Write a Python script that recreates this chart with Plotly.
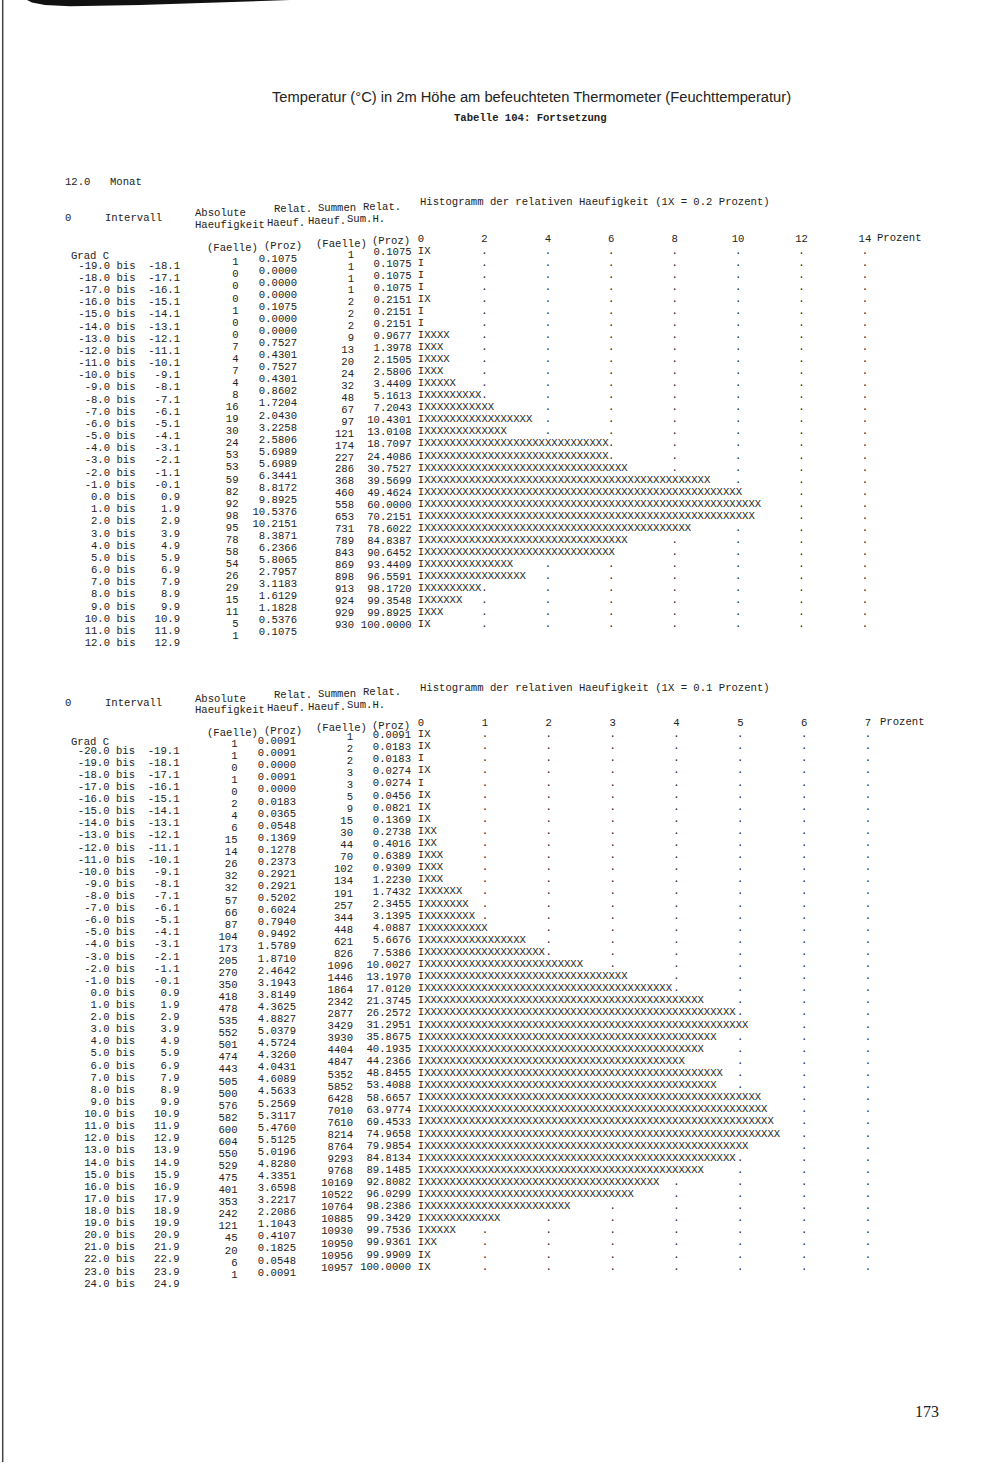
import math

import plotly.graph_objects as go

W, H = 1000, 1472
MONO = "Liberation Mono, DejaVu Sans Mono, monospace"
FS = 10.6
INK = "#222222"

# ---- Tabelle 1: Monat 12, 1X = 0.2 Prozent ----
T1_LOWER = [-19.0, -18.0, -17.0, -16.0, -15.0, -14.0, -13.0, -12.0, -11.0, -10.0,
            -9.0, -8.0, -7.0, -6.0, -5.0, -4.0, -3.0, -2.0, -1.0, 0.0,
            1.0, 2.0, 3.0, 4.0, 5.0, 6.0, 7.0, 8.0, 9.0, 10.0, 11.0, 12.0]
T1_UPPER = [-18.1, -17.1, -16.1, -15.1, -14.1, -13.1, -12.1, -11.1, -10.1, -9.1,
            -8.1, -7.1, -6.1, -5.1, -4.1, -3.1, -2.1, -1.1, -0.1, 0.9,
            1.9, 2.9, 3.9, 4.9, 5.9, 6.9, 7.9, 8.9, 9.9, 10.9, 11.9, 12.9]
T1_ABS = [1, 0, 0, 0, 1, 0, 0, 7, 4, 7, 4, 8, 16, 19, 30, 24, 53, 53, 59, 82,
          92, 98, 95, 78, 58, 54, 26, 29, 15, 11, 5, 1]
T1_REL = [0.1075, 0.0000, 0.0000, 0.0000, 0.1075, 0.0000, 0.0000, 0.7527, 0.4301, 0.7527,
          0.4301, 0.8602, 1.7204, 2.0430, 3.2258, 2.5806, 5.6989, 5.6989, 6.3441, 8.8172,
          9.8925, 10.5376, 10.2151, 8.3871, 6.2366, 5.8065, 2.7957, 3.1183, 1.6129, 1.1828,
          0.5376, 0.1075]
T1_SUM = [1, 1, 1, 1, 2, 2, 2, 9, 13, 20, 24, 32, 48, 67, 97, 121, 174, 227, 286, 368,
          460, 558, 653, 731, 789, 843, 869, 898, 913, 924, 929, 930]
T1_RELSUM = [0.1075, 0.1075, 0.1075, 0.1075, 0.2151, 0.2151, 0.2151, 0.9677, 1.3978, 2.1505,
             2.5806, 3.4409, 5.1613, 7.2043, 10.4301, 13.0108, 18.7097, 24.4086, 30.7527, 39.5699,
             49.4624, 60.0000, 70.2151, 78.6022, 84.8387, 90.6452, 93.4409, 96.5591, 98.1720, 99.3548,
             99.8925, 100.0000]
T1_TICKS = [0, 2, 4, 6, 8, 10, 12, 14]
T1_UNIT = 0.2

# ---- Tabelle 2: 1X = 0.1 Prozent ----
T2_LOWER = [-20.0, -19.0, -18.0, -17.0, -16.0, -15.0, -14.0, -13.0, -12.0, -11.0,
            -10.0, -9.0, -8.0, -7.0, -6.0, -5.0, -4.0, -3.0, -2.0, -1.0,
            0.0, 1.0, 2.0, 3.0, 4.0, 5.0, 6.0, 7.0, 8.0, 9.0,
            10.0, 11.0, 12.0, 13.0, 14.0, 15.0, 16.0, 17.0, 18.0, 19.0,
            20.0, 21.0, 22.0, 23.0, 24.0]
T2_UPPER = [-19.1, -18.1, -17.1, -16.1, -15.1, -14.1, -13.1, -12.1, -11.1, -10.1,
            -9.1, -8.1, -7.1, -6.1, -5.1, -4.1, -3.1, -2.1, -1.1, -0.1,
            0.9, 1.9, 2.9, 3.9, 4.9, 5.9, 6.9, 7.9, 8.9, 9.9,
            10.9, 11.9, 12.9, 13.9, 14.9, 15.9, 16.9, 17.9, 18.9, 19.9,
            20.9, 21.9, 22.9, 23.9, 24.9]
T2_ABS = [1, 1, 0, 1, 0, 2, 4, 6, 15, 14, 26, 32, 32, 57, 66, 87, 104, 173, 205, 270,
          350, 418, 478, 535, 552, 501, 474, 443, 505, 500, 576, 582, 600, 604, 550,
          529, 475, 401, 353, 242, 121, 45, 20, 6, 1]
T2_REL = [0.0091, 0.0091, 0.0000, 0.0091, 0.0000, 0.0183, 0.0365, 0.0548, 0.1369, 0.1278,
          0.2373, 0.2921, 0.2921, 0.5202, 0.6024, 0.7940, 0.9492, 1.5789, 1.8710, 2.4642,
          3.1943, 3.8149, 4.3625, 4.8827, 5.0379, 4.5724, 4.3260, 4.0431, 4.6089, 4.5633,
          5.2569, 5.3117, 5.4760, 5.5125, 5.0196, 4.8280, 4.3351, 3.6598, 3.2217, 2.2086,
          1.1043, 0.4107, 0.1825, 0.0548, 0.0091]
T2_SUM = [1, 2, 2, 3, 3, 5, 9, 15, 30, 44, 70, 102, 134, 191, 257, 344, 448, 621, 826, 1096,
          1446, 1864, 2342, 2877, 3429, 3930, 4404, 4847, 5352, 5852, 6428, 7010, 7610, 8214, 8764,
          9293, 9768, 10169, 10522, 10764, 10885, 10930, 10950, 10956, 10957]
T2_RELSUM = [0.0091, 0.0183, 0.0183, 0.0274, 0.0274, 0.0456, 0.0821, 0.1369, 0.2738, 0.4016,
             0.6389, 0.9309, 1.2230, 1.7432, 2.3455, 3.1395, 4.0887, 5.6676, 7.5386, 10.0027,
             13.1970, 17.0120, 21.3745, 26.2572, 31.2951, 35.8675, 40.1935, 44.2366, 48.8455, 53.4088,
             58.6657, 63.9774, 69.4533, 74.9658, 79.9854, 84.8134, 89.1485, 92.8082, 96.0299, 98.2386,
             99.3429, 99.7536, 99.9361, 99.9909, 100.0000]
T2_TICKS = [0, 1, 2, 3, 4, 5, 6, 7]
T2_UNIT = 0.1


def px(x):
    return x / W


def py(y):
    return 1 - y / H


def row_axis(p_first, p_last, n, first=False):
    # y axis in row units: row 0 lands on pixel p_first, row n-1 on p_last
    d = (p_last - p_first) / (n - 1)
    ax = dict(domain=[0, 1], range=[(H - p_first) / d, -p_first / d],
              visible=False, fixedrange=True, anchor="x")
    if not first:
        ax["overlaying"] = "y"
    return ax


def hist_axis(zero_px, px_per_pct, ticks, label_y):
    return dict(domain=[0, 1], range=[-zero_px / px_per_pct, (W - zero_px) / px_per_pct],
                overlaying="x", anchor="free", position=py(label_y), side="top",
                tickvals=ticks, ticktext=[str(t) for t in ticks],
                ticks="", showline=False, showgrid=False, zeroline=False,
                tickfont=dict(family=MONO, size=FS, color=INK), fixedrange=True)


def axis_name(i):
    return "y" if i == 1 else f"y{i}"


fig = go.Figure()
layout = {}
annotations = []


def txt(x, y, s, anchor="left", size=FS, family=MONO, bold=False):
    annotations.append(dict(
        x=px(x), y=py(y), xref="paper", yref="paper", showarrow=False,
        text=f"<b>{s}</b>" if bold else s, xanchor=anchor, yanchor="middle",
        font=dict(family=family, size=size, color=INK)))


def add_table(lower, upper, absol, rel, sums, relsum, ticks, unit,
              cols, tick_y, head_y, unit_y, grad_y, zero_px, px_per_pct, ax_y, ax_x):
    n = len(lower)
    rows = list(range(n))
    interval = [f"{lo:5.1f} bis  {hi:5.1f}" for lo, hi in zip(lower, upper)]
    columns = [
        ("interval", interval),
        ("abs", [str(v) for v in absol]),
        ("rel", [f"{v:.4f}" for v in rel]),
        ("sum", [str(v) for v in sums]),
        ("relsum", [f"{v:.4f}" for v in relsum]),
    ]
    for k, (key, strings) in enumerate(columns):
        xr, p0, p1 = cols[key]
        name = axis_name(ax_y + k)
        layout[name.replace("y", "yaxis")] = row_axis(p0, p1, n, first=(ax_y + k == 1))
        fig.add_trace(go.Scatter(
            x=[xr] * n, y=rows, mode="text", text=strings, textposition="middle left",
            textfont=dict(family=MONO, size=FS, color=INK), xaxis="x", yaxis=name,
            hoverinfo="skip", showlegend=False, cliponaxis=False))

    # histogram: one 'I' for the zero column, one 'X' per started unit
    hy = axis_name(ax_y + len(columns))
    _, p0, p1 = cols["hist"]
    layout[hy.replace("y", "yaxis")] = row_axis(p0, p1, n)
    layout[f"xaxis{ax_x}"] = hist_axis(zero_px, px_per_pct, ticks, tick_y + 6)
    nx = [math.ceil(round(v / unit, 6)) for v in rel]
    bars = ["I" + "X" * c for c in nx]
    fig.add_trace(go.Scatter(
        x=[-unit / 2] * n, y=rows, mode="text", text=bars, textposition="middle right",
        textfont=dict(family=MONO, size=FS, color=INK), xaxis=f"x{ax_x}", yaxis=hy,
        hoverinfo="skip", showlegend=False, cliponaxis=False))
    dx, dy = [], []
    for r, c in zip(rows, nx):
        for t in ticks[1:]:
            if round(t / unit) > c:
                dx.append(t)
                dy.append(r)
    fig.add_trace(go.Scatter(
        x=dx, y=dy, mode="text", text=["."] * len(dx), textposition="middle center",
        textfont=dict(family=MONO, size=FS, color=INK), xaxis=f"x{ax_x}", yaxis=hy,
        hoverinfo="skip", showlegend=False, cliponaxis=False))
    annotations.append(dict(
        x=ticks[-1], y=py(tick_y), xref=f"x{ax_x}", yref="paper", xshift=10,
        text="Prozent", showarrow=False, xanchor="left", yanchor="middle",
        font=dict(family=MONO, size=FS, color=INK)))

    # column headings (the print is slightly sheared: left side sits lower)
    hd = head_y
    txt(63, hd + 18, "0")
    txt(103, hd + 18, "Intervall")
    txt(193, hd + 13.5, "Absolute")
    txt(272, hd + 9, "Relat.")
    txt(316, hd + 8, "Summen")
    txt(361, hd + 6.5, "Relat.")
    txt(193, hd + 24.5, "Haeufigkeit")
    txt(265, hd + 22.5, "Haeuf.")
    txt(306, hd + 21, "Haeuf.")
    txt(345, hd + 19.5, "Sum.H.")
    txt(418, hd + 2, f"Histogramm der relativen Haeufigkeit (1X = {unit:.1f} Prozent)")
    txt(205, unit_y + 7, "(Faelle)")
    txt(262, unit_y + 5, "(Proz)")
    txt(314, unit_y + 2.5, "(Faelle)")
    txt(370, unit_y, "(Proz)")
    txt(69, grad_y, "Grad C")


add_table(T1_LOWER, T1_UPPER, T1_ABS, T1_REL, T1_SUM, T1_RELSUM, T1_TICKS, T1_UNIT,
          cols={"interval": (180, 266.0, 643.5), "abs": (238.5, 262.7, 636.7),
                "rel": (297, 259.3, 632.7), "sum": (354, 255, 625),
                "relsum": (411.7, 252.7, 625), "hist": (None, 251.7, 624)},
          tick_y=238, head_y=200, unit_y=241, grad_y=256,
          zero_px=421, px_per_pct=31.71, ax_y=1, ax_x=2)

add_table(T2_LOWER, T2_UPPER, T2_ABS, T2_REL, T2_SUM, T2_RELSUM, T2_TICKS, T2_UNIT,
          cols={"interval": (179.5, 751, 1284), "abs": (237.5, 744, 1275),
                "rel": (296, 741.5, 1273), "sum": (353, 737, 1268),
                "relsum": (411, 735.5, 1267), "hist": (None, 734.5, 1267)},
          tick_y=722, head_y=685.5, unit_y=725.5, grad_y=742,
          zero_px=421, px_per_pct=63.86, ax_y=7, ax_x=3)

# page heading
txt(531, 97, "Temperatur (°C) in 2m Höhe am befeuchteten Thermometer (Feuchttemperatur)",
    anchor="center", size=14.7, family="Liberation Sans Narrow, Arial Narrow, Liberation Sans")
txt(530.5, 118, "Tabelle 104: Fortsetzung", anchor="center", bold=True)
txt(63, 182, "12.0")
txt(108, 182, "Monat")
txt(927, 1411, "173", anchor="center", size=16, family="Liberation Serif, serif")

# scan artefacts: brush stroke at the top, binding edge on the left
stroke = [(27, 0), (290, 0), (240, 1.8), (140, 5), (70, 6.2), (45, 5), (32, 2.5)]
path = "M " + " L ".join(f"{px(x)},{py(y)}" for x, y in stroke) + " Z"
shapes = [
    dict(type="path", xref="paper", yref="paper", path=path,
         fillcolor="#111111", line=dict(width=0)),
    dict(type="line", xref="paper", yref="paper", x0=px(2.7), x1=px(2.7),
         y0=py(0), y1=py(1462), line=dict(color="#444444", width=1.5)),
]

fig.update_layout(
    width=W, height=H, margin=dict(l=0, r=0, t=0, b=0),
    paper_bgcolor="white", plot_bgcolor="rgba(0,0,0,0)",
    xaxis=dict(domain=[0, 1], range=[0, W], visible=False, fixedrange=True, anchor="y"),
    annotations=annotations, shapes=shapes, showlegend=False,
    **layout,
)

fig.write_html("out.html", config={"displayModeBar": False},
               post_script="document.body.style.margin = '0';")
